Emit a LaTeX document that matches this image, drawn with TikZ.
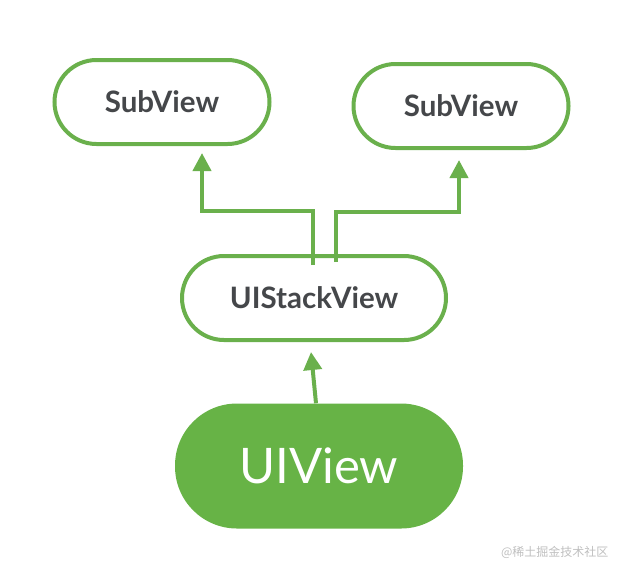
\documentclass[tikz,border=0pt]{standalone}
\usepackage{fontspec}
\setmainfont{Lato}
\newfontfamily\cjk{Noto Sans CJK SC}
\usetikzlibrary{arrows.meta}
\definecolor{leaf}{HTML}{6AB04C}
\definecolor{leaffill}{HTML}{67B346}
\definecolor{ink}{HTML}{45474A}
\begin{document}
\begin{tikzpicture}
  [x=1pt,y=-1pt,
   box/.style={draw=leaf,line width=4pt,fill=white,rounded corners=42pt,
     minimum height=84pt,text=ink,font=\fontsize{29.5}{32}\selectfont\bfseries},
   arr/.style={draw=leaf,line width=4pt,-{Triangle[width=18pt,length=18pt]}}]
  \useasboundingbox (0,0) rectangle (620,566);

  \node[box,minimum width=215pt] (sub1) at (162,102) {SubView};
  \node[box,minimum width=215pt] (sub2) at (461,106) {SubView};
  \node[box,minimum width=264pt] (stack) at (314,298) {UIStackView};
  \node[fill=leaffill,rounded corners=62pt,minimum width=288pt,minimum height=125pt,
    text=white,font=\fontsize{49}{52}\selectfont] (root) at (319,466) {UIView};

  \draw[arr] ([xshift=-3pt]root.north) -- ([xshift=-3pt,yshift=-10pt]stack.south);
  \draw[arr] ([xshift=-1pt,yshift=-11pt]stack.north) |- ([xshift=40pt,yshift=-65pt]sub1.south)
    -- ([xshift=40pt,yshift=-7pt]sub1.south);
  \draw[arr] ([xshift=22pt,yshift=-8pt]stack.north) |- ([xshift=-2pt,yshift=-62pt]sub2.south)
    -- ([xshift=-2pt,yshift=-10pt]sub2.south);

  \node[anchor=east,text=black!25,font=\cjk\fontsize{12}{14}\selectfont] (mark) at (612,552) {@稀土掘金技术社区};
\end{tikzpicture}
\end{document}
